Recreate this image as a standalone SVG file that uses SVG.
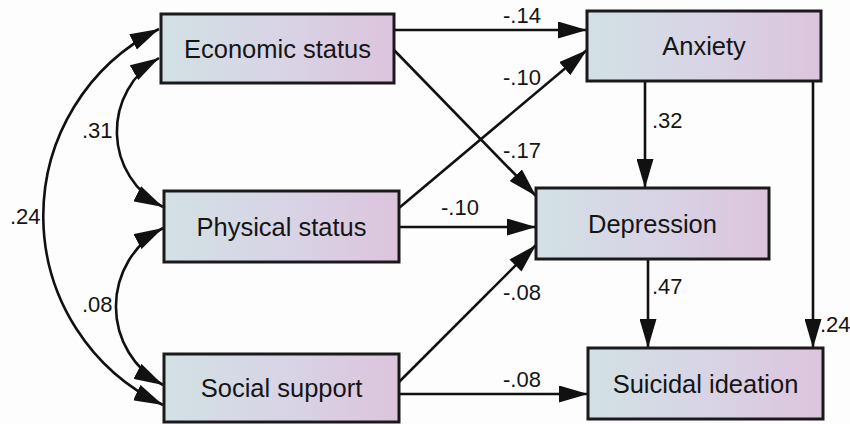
<svg xmlns="http://www.w3.org/2000/svg" width="850" height="424" viewBox="0 0 850 424">
  <defs>
    <linearGradient id="boxfill" x1="0" y1="0" x2="1" y2="0">
      <stop offset="0" stop-color="#d2e1e4"/>
      <stop offset="0.5" stop-color="#d8d4e6"/>
      <stop offset="1" stop-color="#dcc4dd"/>
    </linearGradient>
    <marker id="ah" markerUnits="userSpaceOnUse" viewBox="0 0 29 17" refX="29" refY="8.5" markerWidth="29" markerHeight="17" orient="auto-start-reverse">
      <path d="M0,0 L29,8.5 L0,17 Z" fill="#111"/>
    </marker>
    <style>
      .box { fill: url(#boxfill); stroke: #1a1a1a; stroke-width: 3; }
      .lbl { font-family: "Liberation Sans", Arial, sans-serif; font-size: 25.5px; fill: #151515; text-anchor: middle; }
      .coef { font-family: "Liberation Sans", Arial, sans-serif; font-size: 22px; fill: #151515; }
      .edge { fill: none; stroke: #111; stroke-width: 2.6; marker-end: url(#ah); }
      .dbl { marker-start: url(#ah); }
    </style>
  </defs>
  <rect width="850" height="424" fill="#fdfdfd"/>

  <g id="connectors">
    <path class="edge" d="M394,30 L587,30"/>
    <path class="edge" d="M394,50 L536,196"/>
    <path class="edge" d="M399,208 L587,50"/>
    <path class="edge" d="M399,227 L536,227"/>
    <path class="edge" d="M399,382 L536,245"/>
    <path class="edge" d="M399,394 L588,394"/>
    <path class="edge" d="M645,81 L645,188"/>
    <path class="edge" d="M648,259 L648,348"/>
    <path class="edge" d="M813,81 L813,348"/>
    <path class="edge dbl" d="M159,58 A85,85 0 0 0 163,207"/>
    <path class="edge dbl" d="M163,228 A89,89 0 0 0 163,385"/>
    <path class="edge dbl" d="M159,29 A209,209 0 0 0 163,405"/>
    <g id="coefficients">
      <text class="coef" x="503" y="23">-.14</text>
      <text class="coef" x="503" y="85">-.10</text>
      <text class="coef" x="503" y="158">-.17</text>
      <text class="coef" x="441" y="215">-.10</text>
      <text class="coef" x="503" y="300">-.08</text>
      <text class="coef" x="503" y="387">-.08</text>
      <text class="coef" x="652" y="128">.32</text>
      <text class="coef" x="652" y="294">.47</text>
      <text class="coef" x="820" y="332">.24</text>
      <text class="coef" x="82" y="138">.31</text>
      <text class="coef" x="82" y="312">.08</text>
      <text class="coef" x="10" y="224">.24</text>
    </g>
  </g>

  <g id="economic-status">
    <rect class="box" x="161" y="14" width="233" height="69"/>
    <text class="lbl" x="277.5" y="57.5">Economic status</text>
  </g>
  <g id="anxiety">
    <rect class="box" x="587" y="11" width="234" height="70"/>
    <text class="lbl" x="704" y="55">Anxiety</text>
  </g>
  <g id="physical-status">
    <rect class="box" x="164" y="191" width="235" height="71"/>
    <text class="lbl" x="281.5" y="235.5">Physical status</text>
  </g>
  <g id="depression">
    <rect class="box" x="536" y="188" width="233" height="71"/>
    <text class="lbl" x="652.5" y="232.5">Depression</text>
  </g>
  <g id="social-support">
    <rect class="box" x="164" y="354" width="235" height="68"/>
    <text class="lbl" x="281.5" y="397">Social support</text>
  </g>
  <g id="suicidal-ideation">
    <rect class="box" x="588" y="348" width="235" height="71"/>
    <text class="lbl" x="705.5" y="392.5">Suicidal ideation</text>
  </g>
</svg>
